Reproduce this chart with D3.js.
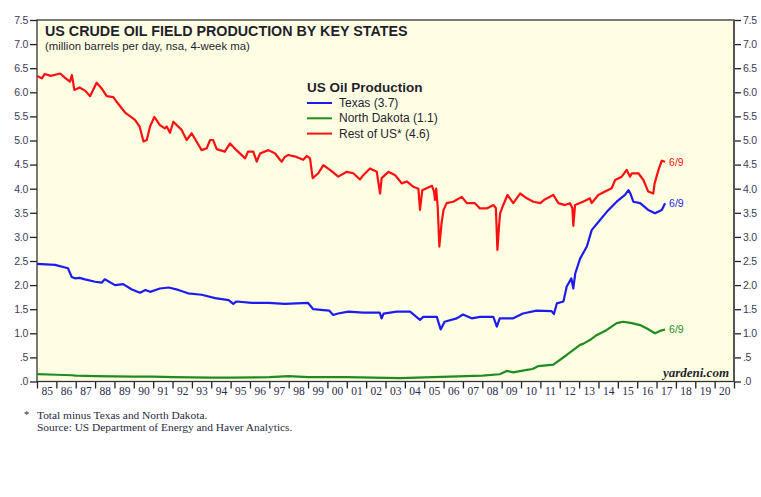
<!DOCTYPE html>
<html><head><meta charset="utf-8">
<script src="https://cdn.jsdelivr.net/npm/d3@7"></script>
<style>
html,body{margin:0;padding:0;background:#fff;}
svg{display:block;}
</style></head>
<body>
<svg id="chart" width="761" height="497"></svg>
<script>
// ---- Data (decimal years, million barrels per day) ----
const restYears = [1985.0,1985.25,1985.4,1985.7,1986.0,1986.2,1986.45,1986.7,1986.8,1986.93,1987.2,1987.5,1987.74,1988.08,1988.34,1988.6,1988.94,1989.1,1989.55,1990.06,1990.3,1990.5,1990.67,1990.84,1991.06,1991.35,1991.6,1991.7,1991.87,1992.04,1992.47,1992.73,1992.99,1993.5,1993.77,1993.94,1994.1,1994.28,1994.7,1994.97,1995.3,1995.75,1995.9,1996.17,1996.35,1996.52,1996.95,1997.3,1997.55,1997.64,1997.8,1997.98,1998.4,1998.75,1998.93,1999.1,1999.24,1999.53,1999.79,2000.13,2000.56,2001.0,2001.34,2001.68,2001.85,2002.2,2002.55,2002.72,2002.8,2003.15,2003.5,2003.84,2004.1,2004.44,2004.7,2004.78,2004.9,2005.4,2005.5,2005.56,2005.62,2005.7,2005.78,2005.9,2006.0,2006.16,2006.5,2006.94,2007.2,2007.62,2007.88,2008.23,2008.57,2008.7,2008.78,2008.86,2008.92,2009.05,2009.3,2009.6,2009.95,2010.3,2010.64,2011.0,2011.2,2011.67,2011.93,2012.27,2012.53,2012.65,2012.7,2012.79,2013.2,2013.56,2013.65,2013.99,2014.34,2014.68,2014.86,2015.2,2015.46,2015.63,2015.72,2016.06,2016.32,2016.57,2016.83,2016.9,2017.1,2017.27,2017.44];
const restValues = [6.34,6.29,6.38,6.34,6.37,6.39,6.30,6.22,6.36,6.05,6.10,6.03,5.92,6.20,6.08,5.92,5.90,5.81,5.58,5.43,5.29,4.98,5.01,5.29,5.49,5.32,5.25,5.29,5.16,5.39,5.22,5.01,5.15,4.80,4.84,5.01,5.01,4.82,4.77,4.94,4.80,4.63,4.77,4.77,4.56,4.73,4.80,4.73,4.60,4.56,4.66,4.70,4.66,4.60,4.68,4.63,4.22,4.32,4.49,4.39,4.25,4.35,4.32,4.19,4.28,4.42,4.35,3.90,4.22,4.35,4.28,4.11,4.15,4.04,4.00,3.56,3.97,4.06,3.95,3.77,4.00,3.60,2.80,3.30,3.56,3.70,3.73,3.83,3.70,3.70,3.59,3.59,3.66,3.60,2.73,3.20,3.49,3.63,3.87,3.70,3.90,3.80,3.73,3.70,3.77,3.87,3.70,3.66,3.70,3.60,3.23,3.66,3.73,3.80,3.70,3.87,3.94,4.01,4.18,4.25,4.39,4.25,4.32,4.32,4.18,3.94,3.90,4.11,4.39,4.58,4.56];

const texasYears = [1985.0,1985.93,1986.6,1986.79,1986.96,1987.2,1987.48,1988.0,1988.34,1988.5,1989.03,1989.45,1989.9,1990.32,1990.6,1990.84,1991.35,1991.8,1992.3,1992.8,1993.5,1994.2,1994.9,1995.14,1995.3,1996.1,1996.95,1997.8,1999.0,1999.27,1999.8,2000.1,2000.3,2000.55,2001.08,2001.85,2002.7,2002.8,2002.9,2003.58,2004.27,2004.78,2004.95,2005.65,2005.85,2006.05,2006.68,2007.0,2007.45,2007.88,2008.57,2008.75,2008.9,2009.6,2010.1,2010.8,2011.58,2011.7,2011.85,2012.19,2012.36,2012.6,2012.7,2012.8,2013.05,2013.4,2013.65,2014.08,2014.43,2014.94,2015.37,2015.55,2015.65,2015.8,2016.15,2016.57,2016.92,2017.27,2017.44];
const texasValues = [2.44,2.42,2.35,2.17,2.14,2.15,2.12,2.07,2.05,2.12,2.00,2.02,1.91,1.84,1.90,1.86,1.93,1.95,1.90,1.83,1.80,1.73,1.69,1.61,1.66,1.63,1.63,1.61,1.63,1.50,1.48,1.47,1.38,1.41,1.45,1.43,1.43,1.31,1.41,1.45,1.45,1.28,1.34,1.34,1.08,1.24,1.31,1.39,1.31,1.34,1.34,1.14,1.31,1.31,1.41,1.47,1.46,1.40,1.62,1.66,1.97,2.14,1.93,2.24,2.55,2.80,3.14,3.35,3.52,3.73,3.87,3.97,3.90,3.73,3.70,3.56,3.49,3.56,3.70];

const ndYears = [1985.0,1986.0,1986.8,1987.0,1988.0,1989.0,1990.0,1991.0,1992.0,1994.0,1995.0,1997.0,1998.0,1999.0,2001.0,2003.75,2006.3,2008.0,2008.9,2009.26,2009.6,2010.3,2010.6,2010.9,2011.67,2012.36,2013.05,2013.2,2013.56,2013.9,2014.43,2014.94,2015.28,2015.72,2016.15,2016.5,2016.92,2017.18,2017.44];
const ndValues = [0.155,0.14,0.13,0.12,0.11,0.105,0.10,0.10,0.09,0.08,0.08,0.09,0.11,0.09,0.09,0.07,0.10,0.12,0.15,0.22,0.19,0.24,0.26,0.32,0.35,0.55,0.76,0.78,0.86,0.96,1.07,1.21,1.24,1.21,1.17,1.10,1.00,1.05,1.08];

const legendLabels = ["Texas (3.7)", "North Dakota (1.1)", "Rest of US* (4.6)"];
const endLabel = "6/9";
const yTicks = [0,0.5,1,1.5,2,2.5,3,3.5,4,4.5,5,5.5,6,6.5,7,7.5];
const yearTicks = d3.range(1985, 2022);
const yearLabels = d3.range(1985, 2021);

// ---- Layout ----
const L = 37, R = 734, T = 20, B = 381.5;
const svg = d3.select("#chart");
const x = d3.scaleLinear().domain([1985, 2021]).range([L, R]);
const y = d3.scaleLinear().domain([0, 7.5]).range([B, T]);

svg.append("rect").attr("x", L).attr("y", T).attr("width", R - L).attr("height", B - T)
  .attr("fill", "#fffee3");

const tickColor = "#3b3b58";
const fmtY = v => v === 0 ? ".0" : (v < 1 ? ".5" : v.toFixed(1));

function styleAxis(g, fs, family) {
  g.select(".domain").remove();
  g.selectAll(".tick line").attr("stroke", "#222").attr("stroke-width", 1.3);
  g.selectAll(".tick text").attr("fill", tickColor).style("font-family", family).style("font-size", fs + "px");
}

const gl = svg.append("g").attr("transform", `translate(${L},0)`)
  .call(d3.axisLeft(y).tickValues(yTicks).tickFormat(fmtY).tickSize(7).tickPadding(2));
styleAxis(gl, 10.5, "Liberation Sans, Arial, sans-serif");
gl.selectAll(".tick text").attr("letter-spacing", "-0.3");

const gr = svg.append("g").attr("transform", `translate(${R},0)`)
  .call(d3.axisRight(y).tickValues(yTicks).tickFormat(fmtY).tickSize(7).tickPadding(2));
styleAxis(gr, 10.5, "Liberation Sans, Arial, sans-serif");
gr.selectAll(".tick text").attr("letter-spacing", "-0.3");

const gb = svg.append("g").attr("transform", `translate(0,${B})`)
  .call(d3.axisBottom(x).tickValues(yearTicks).tickFormat("").tickSize(7));
styleAxis(gb, 11, "Liberation Serif, serif");

const gbl = svg.append("g").attr("transform", `translate(0,${B})`)
  .call(d3.axisBottom(x).tickValues(yearLabels.map(v => v + 0.5))
    .tickFormat(v => String(Math.floor(v) % 100).padStart(2, "0")).tickSize(0).tickPadding(5));
styleAxis(gbl, 11.5, "Liberation Serif, 'Times New Roman', serif");
gbl.selectAll(".tick text").attr("fill", "#2a2a44");

// frame
svg.append("rect").attr("x", L).attr("y", T).attr("width", R - L).attr("height", B - T)
  .attr("fill", "none").attr("stroke", "#333").attr("stroke-width", 1.3);
svg.append("line").attr("x1", R).attr("x2", R).attr("y1", T).attr("y2", B)
  .attr("stroke", "#555").attr("stroke-width", 2);

// lines
const line = d3.line().x(d => x(d[0])).y(d => y(d[1]));
const series = [
  {years: texasYears, values: texasValues, color: "#1c1cf0"},
  {years: ndYears, values: ndValues, color: "#1f8c1f"},
  {years: restYears, values: restValues, color: "#ff1010"}
];
series.forEach(s => {
  const pts = s.years.map((yr, i) => [yr, s.values[i]]);
  svg.append("path").datum(pts).attr("d", line).attr("fill", "none")
    .attr("stroke", s.color).attr("stroke-width", 2.2).attr("stroke-linejoin", "round");
  const last = pts[pts.length - 1];
  svg.append("text").attr("x", x(last[0]) + 4).attr("y", y(last[1]) + 4)
    .attr("fill", s.color).style("font-family", "Liberation Sans, Arial, sans-serif")
    .style("font-size", "10.5px").text(endLabel);
});

// titles
svg.append("text").attr("x", 45).attr("y", 36)
  .style("font-family", "Liberation Sans, Arial, sans-serif").style("font-weight", "bold")
  .style("font-size", "14.3px").attr("fill", "#1e1e2e").text("US CRUDE OIL FIELD PRODUCTION BY KEY STATES");
svg.append("text").attr("x", 45).attr("y", 50)
  .style("font-family", "Liberation Sans, Arial, sans-serif")
  .style("font-size", "11.4px").attr("fill", "#1e1e2e").text("(million barrels per day, nsa, 4-week ma)");

// legend
const lg = svg.append("g");
lg.append("text").attr("x", 307).attr("y", 92)
  .style("font-family", "Liberation Sans, Arial, sans-serif").style("font-weight", "bold")
  .style("font-size", "13.5px").attr("fill", "#1e1e2e").text("US Oil Production");
series.forEach((s, i) => {
  const yy = 103 + i * 15.3;
  lg.append("line").attr("x1", 307).attr("x2", 332).attr("y1", yy).attr("y2", yy)
    .attr("stroke", s.color).attr("stroke-width", 2);
  lg.append("text").attr("x", 339).attr("y", yy + 4)
    .style("font-family", "Liberation Sans, Arial, sans-serif")
    .style("font-size", "12px").attr("fill", "#1e1e2e").text(legendLabels[i]);
});

// source
svg.append("text").attr("x", 729).attr("y", 377).attr("text-anchor", "end")
  .style("font-family", "Liberation Serif, 'Times New Roman', serif").style("font-weight", "bold")
  .style("font-style", "italic").style("font-size", "13px").attr("fill", "#1e1e2e").text("yardeni.com");

svg.append("text").attr("x", 24).attr("y", 418)
  .style("font-family", "Liberation Serif, serif").style("font-size", "10.5px").attr("fill", "#2a2a44").text("*");
svg.append("text").attr("x", 37).attr("y", 419)
  .style("font-family", "Liberation Serif, 'Times New Roman', serif").style("font-size", "11.4px")
  .attr("fill", "#2a2a44").text("Total minus Texas and North Dakota.");
svg.append("text").attr("x", 37).attr("y", 431)
  .style("font-family", "Liberation Serif, 'Times New Roman', serif").style("font-size", "11.4px")
  .attr("fill", "#2a2a44").text("Source: US Department of Energy and Haver Analytics.");
</script>
</body></html>
